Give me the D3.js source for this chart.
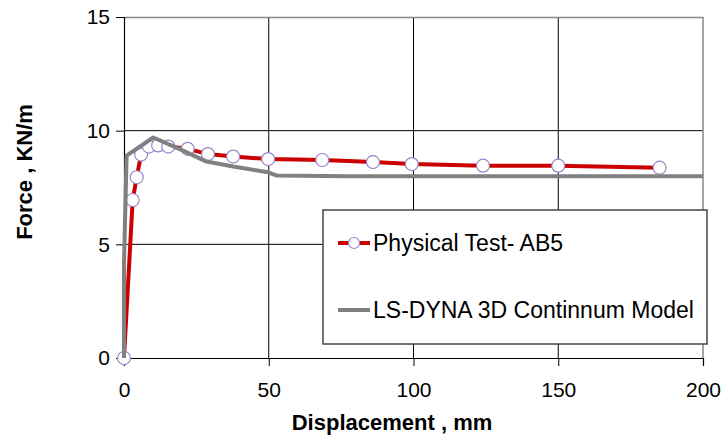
<!DOCTYPE html>
<html>
<head>
<meta charset="utf-8">
<script src="https://cdn.jsdelivr.net/npm/d3@7"></script>
<style>
  body { margin: 0; background: #fff; }
  svg text { font-family: "Liberation Sans", Arial, sans-serif; fill: #000; }
</style>
</head>
<body>
<div id="chart"></div>
<script>
// data
const testDisp  = [0, 3, 4.4, 5.9, 8.6, 11.8, 15.3, 22, 29, 37.7, 49.8, 68.5, 86, 99.4, 124, 150, 185];
const testForce = [0, 6.95, 7.95, 8.95, 9.3, 9.35, 9.3, 9.2, 8.97, 8.86, 8.75, 8.71, 8.62, 8.53, 8.46, 8.46, 8.37];

const modelDisp  = [0, 0, 0.9, 10.1, 18.7, 28.5, 37.7, 49.8, 52.6, 76.8, 200];
const modelForce = [0, 4.2, 8.9, 9.7, 9.22, 8.64, 8.42, 8.17, 8.03, 8.0, 8.0];

const xTicks = [0, 50, 100, 150, 200];
const yTicks = [0, 5, 10, 15];

const seriesNames = ["Physical Test- AB5", "LS-DYNA 3D Continnum Model"];

const W = 727, H = 437;
const margin = {top: 17, right: 24, bottom: 79, left: 124};
const width = W - margin.left - margin.right,
      height = H - margin.top - margin.bottom;

const svg = d3.select("#chart")
    .append("svg")
        .attr("width", W)
        .attr("height", H);

const g = svg.append("g")
    .attr("transform", `translate(${margin.left},${margin.top})`);

const x = d3.scaleLinear().domain([0, 200]).range([0, width]);
const y = d3.scaleLinear().domain([0, 15]).range([height, 0]);

// grid lines
g.selectAll(".hgrid")
    .data(yTicks.filter(d => d > 0 && d < 15))
    .join("line")
        .attr("x1", 0).attr("x2", width)
        .attr("y1", d => y(d)).attr("y2", d => y(d))
        .attr("stroke", "#000").attr("stroke-width", 1);

g.selectAll(".vgrid")
    .data(xTicks.filter(d => d > 0 && d < 200))
    .join("line")
        .attr("x1", d => x(d)).attr("x2", d => x(d))
        .attr("y1", 0).attr("y2", height)
        .attr("stroke", "#000").attr("stroke-width", 1);

// plot border top / right
g.append("path")
    .attr("d", `M0,0.5H${width}V${height}`)
    .attr("fill", "none")
    .attr("stroke", "#888")
    .attr("stroke-width", 1.5);

// axes
const xAxis = g.append("g")
    .attr("transform", `translate(0,${height})`)
    .call(d3.axisBottom(x).tickValues(xTicks).tickSize(8).tickPadding(16));
const yAxis = g.append("g")
    .call(d3.axisLeft(y).tickValues(yTicks).tickSize(8).tickPadding(6));

[xAxis, yAxis].forEach(a => {
    a.select(".domain").attr("stroke", "#000").attr("stroke-width", 1.2);
    a.selectAll(".tick line").attr("stroke", "#000");
    a.selectAll("text")
        .style("font-size", "21px")
        .style("font-family", "Liberation Sans, Arial, sans-serif")
        .attr("fill", "#000");
});

// lines
const testData = testDisp.map((d, i) => ({x: d, y: testForce[i]}));
const modelData = modelDisp.map((d, i) => ({x: d, y: modelForce[i]}));

const line = d3.line().x(d => x(d.x)).y(d => y(d.y));

g.append("path")
    .datum(testData)
    .attr("d", line)
    .attr("fill", "none")
    .attr("stroke", "#CC0000")
    .attr("stroke-width", 4)
    .attr("stroke-linejoin", "round");

g.selectAll(".pt")
    .data(testData)
    .join("circle")
        .attr("cx", d => x(d.x))
        .attr("cy", d => y(d.y))
        .attr("r", 6.5)
        .attr("fill", "#fff")
        .attr("stroke", "#9a86c6")
        .attr("stroke-width", 1.2);

g.append("path")
    .datum(modelData)
    .attr("d", line)
    .attr("fill", "none")
    .attr("stroke", "#808080")
    .attr("stroke-width", 4)
    .attr("stroke-linejoin", "round");

// legend
const legend = svg.append("g").attr("transform", "translate(323,210)");
legend.append("rect")
    .attr("width", 384).attr("height", 134)
    .attr("fill", "#fff")
    .attr("stroke", "#444")
    .attr("stroke-width", 1.5);

const items = legend.selectAll(".item")
    .data(seriesNames)
    .join("g")
        .attr("transform", (d, i) => `translate(15,${33 + i * 67})`);

items.append("line")
    .attr("x1", 0).attr("x2", 32)
    .attr("stroke", (d, i) => i === 0 ? "#CC0000" : "#808080")
    .attr("stroke-width", 4);

items.filter((d, i) => i === 0)
    .append("circle")
        .attr("cx", 16).attr("r", 5.5)
        .attr("fill", "#fff")
        .attr("stroke", "#9a86c6")
        .attr("stroke-width", 1.2);

items.append("text")
    .attr("x", 35)
    .attr("y", 8)
    .style("font-size", "23px")
    .text(d => d);

// axis titles
svg.append("text")
    .attr("x", 392)
    .attr("y", 430)
    .attr("text-anchor", "middle")
    .style("font-size", "22px")
    .style("font-weight", "bold")
    .text("Displacement , mm");

svg.append("text")
    .attr("transform", "translate(32,172) rotate(-90)")
    .attr("text-anchor", "middle")
    .style("font-size", "22px")
    .style("font-weight", "bold")
    .text("Force , KN/m");
</script>
</body>
</html>
